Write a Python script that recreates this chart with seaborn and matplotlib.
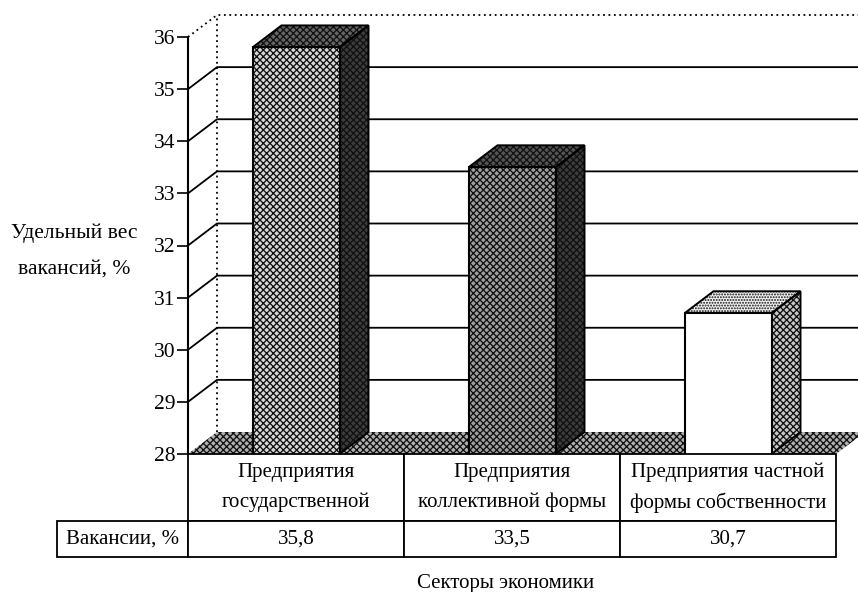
import numpy as np
import pandas as pd
import matplotlib
matplotlib.use("Agg")
import matplotlib.pyplot as plt
import seaborn as sns
from matplotlib.patches import Polygon, Rectangle

# values
sectors = ["Предприятия\nгосударственной", "Предприятия\nколлективной формы",
           "Предприятия частной\nформы собственности"]
vacancies = [35.8, 33.5, 30.7]
value_labels = ["35,8", "33,5", "30,7"]
yticks = [28, 29, 30, 31, 32, 33, 34, 35, 36]

sns.set_style("white")
plt.rcParams["font.family"] = ["Liberation Serif", "DejaVu Serif"]
plt.rcParams["hatch.linewidth"] = 0.95

W, H = 858, 592
fig = plt.figure(figsize=(W / 100, H / 100), dpi=100)
ax = fig.add_axes([188 / W, 1 - 454 / H, 648 / W, 417 / H])

df = pd.DataFrame({"sector": sectors, "vacancies": vacancies})
sns.barplot(data=df, x="sector", y="vacancies", width=87 / 216, color="white",
            saturation=1, ax=ax, zorder=4)
bars = list(ax.patches)
ax.set_xlim(-0.5, 2.5)
ax.set_ylim(28, 36)

# depth of the fake 3d box, in data units
dx = 29 / 216
dy = 22 / (417 / 8)
right = 2.5 + dx

# back wall
for v in yticks[1:-1]:
    ax.plot([-0.5, -0.5 + dx, right], [v, v + dy, v + dy], color="black", lw=1.3,
            clip_on=False, zorder=1)
ax.plot([-0.5, -0.5 + dx, right], [36, 36 + dy, 36 + dy], color="black", lw=1.3,
        ls=(0, (1, 2)), clip_on=False, zorder=1)
ax.plot([-0.5 + dx, -0.5 + dx], [28 + dy, 36 + dy], color="black", lw=1.3,
        ls=(0, (1, 2)), clip_on=False, zorder=1)

# floor
ax.add_patch(Polygon([(-0.5, 28), (-0.5 + dx, 28 + dy), (right, 28 + dy), (2.5, 28)],
                     facecolor="#b0b0b0", edgecolor="#111111", hatch="xxxxx", lw=0,
                     clip_on=False, zorder=2))

# (front, side, top) as facecolor + hatch
styles = [
    (("#d8d8d8", "xxxxx"), ("#3c3c3c", "xxxxx"), ("#666666", "xxxxx")),
    (("#a0a0a0", "xxxxx"), ("#3c3c3c", "xxxxx"), ("#555555", "xxxxx")),
    (("white", ""), ("#c8c8c8", "xxxxx"), ("#f4f4f4", "......")),
]

for bar, style in zip(bars, styles):
    x0 = bar.get_x()
    x1 = x0 + bar.get_width()
    top = bar.get_height()
    front, side, roof = style
    bar.set_facecolor(front[0])
    bar.set_hatch(front[1])
    bar.set_edgecolor("#111111")
    bar.set_linewidth(0)
    ax.add_patch(Rectangle((x0, 0), x1 - x0, top, fill=False, edgecolor="black", lw=1.5, zorder=5))
    side_pts = [(x1, 28), (x1 + dx, 28 + dy), (x1 + dx, top + dy), (x1, top)]
    roof_pts = [(x0, top), (x0 + dx, top + dy), (x1 + dx, top + dy), (x1, top)]
    for pts, st in ((side_pts, side), (roof_pts, roof)):
        ax.add_patch(Polygon(pts, facecolor=st[0], edgecolor="#111111", hatch=st[1], lw=0,
                             clip_on=False, zorder=3))
        ax.add_patch(Polygon(pts, fill=False, edgecolor="black", lw=1.4, clip_on=False, zorder=3.5))

# axis
sns.despine(ax=ax, top=True, right=True, bottom=True, left=False)
ax.spines["left"].set_linewidth(1.5)
ax.spines["left"].set_color("black")
ax.set_yticks(yticks)
ax.tick_params(axis="y", left=True, length=8, width=1.2, color="black", labelsize=15.5, pad=1,
               labelcolor="black")
ax.set_xticks([])
ax.set_xlabel("Секторы экономики", fontsize=15, color="black")
ax.xaxis.set_label_coords(0.49, -0.288)
ax.set_ylabel("Удельный вес\nвакансий, %", rotation=0, fontsize=15.5, ha="center", va="center",
              color="black", linespacing=2.2)
ax.yaxis.set_label_coords(-0.175, 0.487)

# data table below the plot, first column holds the row label
table = ax.table(cellText=[[""] + sectors, ["Вакансии, %"] + value_labels],
                 cellLoc="center",
                 bbox=[-131 / 648, -103 / 417, 779 / 648, 103 / 417], zorder=6)
table.auto_set_font_size(False)
table.set_fontsize(15)
for (r, c), cell in table.get_celld().items():
    cell.set_height(67 if r == 0 else 36)
    cell.set_width(131 if c == 0 else 216)
    cell.set_linewidth(1.3)
    cell.set_edgecolor("black")
    cell.set_facecolor("white")
    cell.get_text().set_color("black")
    cell.get_text().set_linespacing(1.7)
    if r == 0 and c == 0:
        cell.visible_edges = ""

fig.savefig("out.png", dpi=100)
